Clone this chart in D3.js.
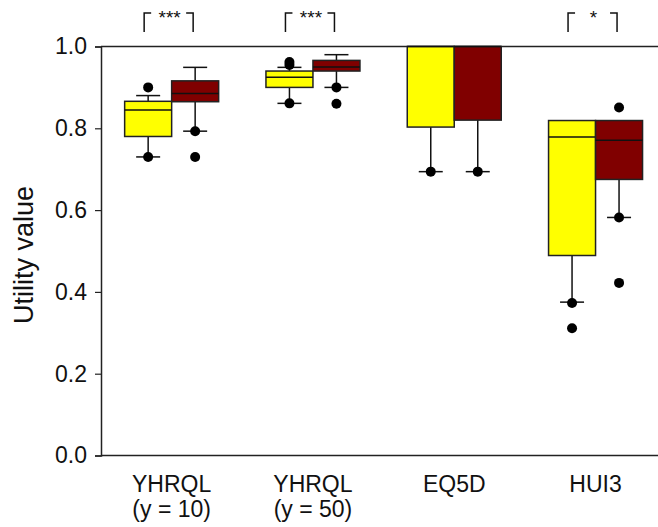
<!DOCTYPE html>
<html>
<head>
<meta charset="utf-8">
<script src="https://cdn.jsdelivr.net/npm/d3@7"></script>
<style>
  body { margin: 0; background: #fff; }
  svg { display: block; font-family: Arial, "Liberation Sans", sans-serif; }
</style>
</head>
<body>
<svg id="chart" width="658" height="527"></svg>
<script>
// Measures and the two compared series
const categories = ["YHRQL|(y = 10)", "YHRQL|(y = 50)", "EQ5D", "HUI3"];
const seriesNames = ["first", "second"];
const seriesColors = ["#ffff00", "#800000"];

// Box statistics per measure: [lowWhisker, q1, median, q3, highWhisker]
const firstStats = [
  [0.73, 0.780, 0.845, 0.866, 0.880],
  [0.861, 0.900, 0.925, 0.940, 0.949],
  [0.694, 0.803, 1.000, 1.000, 1.000],
  [0.375, 0.489, 0.779, 0.819, 0.819]
];
const secondStats = [
  [0.793, 0.865, 0.885, 0.916, 0.949],
  [0.900, 0.940, 0.950, 0.966, 0.980],
  [0.694, 0.820, 1.000, 1.000, 1.000],
  [0.582, 0.675, 0.771, 0.819, 0.819]
];
// Points plotted individually (beyond the whiskers / at the whisker ends)
const firstOutliers = [[0.90, 0.73], [0.955, 0.962, 0.861], [0.694], [0.373, 0.311]];
const secondOutliers = [[0.793, 0.73], [0.90, 0.86], [0.694], [0.851, 0.582, 0.422]];

// Significance marks between the two series
const sigLabels = ["***", "***", "", "*"];

const yTicks = [0, 0.2, 0.4, 0.6, 0.8, 1.0];

const svg = d3.select("#chart");
const plotLeft = 101, plotRight = 658, plotTop = 46.5, plotBottom = 455.5;

const y = d3.scaleLinear().domain([0, 1]).range([plotBottom, plotTop]);
const x = d3.scaleBand().domain(categories).range([plotLeft, plotLeft + 4 * 141.3]).padding(0);
const xSub = d3.scaleBand().domain(seriesNames).range([-47, 47]).padding(0);
const boxW = xSub.bandwidth();
const capHalf = 12;

const allStats = [firstStats, secondStats];
const allOutliers = [firstOutliers, secondOutliers];

// Frame: top and bottom lines run to the right edge
svg.append("line").attr("x1", plotLeft).attr("x2", plotRight).attr("y1", plotTop).attr("y2", plotTop)
  .attr("stroke", "#222").attr("stroke-width", 1.5);
svg.append("line").attr("x1", plotLeft).attr("x2", plotRight).attr("y1", plotBottom).attr("y2", plotBottom)
  .attr("stroke", "#222").attr("stroke-width", 1.5);

// Y axis
const yAxis = svg.append("g")
  .attr("transform", `translate(${plotLeft},0)`)
  .call(d3.axisLeft(y).tickValues(yTicks).tickFormat(d3.format(".1f")).tickSize(6).tickPadding(8));
yAxis.select(".domain").attr("stroke", "#222").attr("stroke-width", 1.5);
yAxis.selectAll(".tick line").attr("stroke", "#222").attr("stroke-width", 1.2);
yAxis.selectAll(".tick text").attr("font-size", 23).attr("fill", "#111")
  .attr("font-family", "Arial, 'Liberation Sans', sans-serif");

svg.append("text")
  .attr("transform", `translate(33,255) rotate(-90)`)
  .attr("text-anchor", "middle")
  .attr("font-size", 27).attr("fill", "#111")
  .text("Utility value");

// Boxes
seriesNames.forEach((s, si) => {
  const g = svg.append("g");
  categories.forEach((c, ci) => {
    const st = allStats[si][ci];
    const cx = x(c) + x.bandwidth() / 2 + xSub(s) + boxW / 2;
    const [lo, q1, med, q3, hi] = st;
    // whiskers
    if (lo < q1) {
      g.append("line").attr("x1", cx).attr("x2", cx).attr("y1", y(q1)).attr("y2", y(lo))
        .attr("stroke", "#111").attr("stroke-width", 1.5);
      g.append("line").attr("x1", cx - capHalf).attr("x2", cx + capHalf).attr("y1", y(lo)).attr("y2", y(lo))
        .attr("stroke", "#111").attr("stroke-width", 1.5);
    }
    if (hi > q3) {
      g.append("line").attr("x1", cx).attr("x2", cx).attr("y1", y(q3)).attr("y2", y(hi))
        .attr("stroke", "#111").attr("stroke-width", 1.5);
      g.append("line").attr("x1", cx - capHalf).attr("x2", cx + capHalf).attr("y1", y(hi)).attr("y2", y(hi))
        .attr("stroke", "#111").attr("stroke-width", 1.5);
    }
    g.append("rect")
      .attr("x", cx - boxW / 2).attr("width", boxW)
      .attr("y", y(q3)).attr("height", y(q1) - y(q3))
      .attr("fill", seriesColors[si]).attr("stroke", "#222").attr("stroke-width", 1.5);
    g.append("line").attr("x1", cx - boxW / 2).attr("x2", cx + boxW / 2).attr("y1", y(med)).attr("y2", y(med))
      .attr("stroke", "#111").attr("stroke-width", 1.5);
    allOutliers[si][ci].forEach(v => {
      g.append("circle").attr("cx", cx).attr("cy", y(v)).attr("r", 5).attr("fill", "#000");
    });
  });
});

// Category labels (two lines where needed)
categories.forEach(c => {
  const cx = x(c) + x.bandwidth() / 2;
  const lines = c.split("|");
  const t = svg.append("text").attr("text-anchor", "middle").attr("font-size", 23).attr("fill", "#111");
  lines.forEach((ln, i) => {
    t.append("tspan").attr("x", cx).attr("y", 492 + i * 25).text(ln);
  });
});

// Significance brackets
categories.forEach((c, ci) => {
  if (!sigLabels[ci]) return;
  const x0 = x(c) + x.bandwidth() / 2 + xSub("first") + boxW / 2 - 4;
  const x1 = x(c) + x.bandwidth() / 2 + xSub("second") + boxW / 2 - 2;
  const mid = (x0 + x1) / 2;
  const top = 13, bot = 32, arm = 7;
  svg.append("path")
    .attr("d", `M${x0},${bot}V${top}H${x0 + arm}M${x1 - arm},${top}H${x1}V${bot}`)
    .attr("fill", "none").attr("stroke", "#111").attr("stroke-width", 1.5);
  svg.append("text").attr("x", mid + 1).attr("y", 24).attr("text-anchor", "middle")
    .attr("font-size", 19).attr("fill", "#111").text(sigLabels[ci]);
});
</script>
</body>
</html>
